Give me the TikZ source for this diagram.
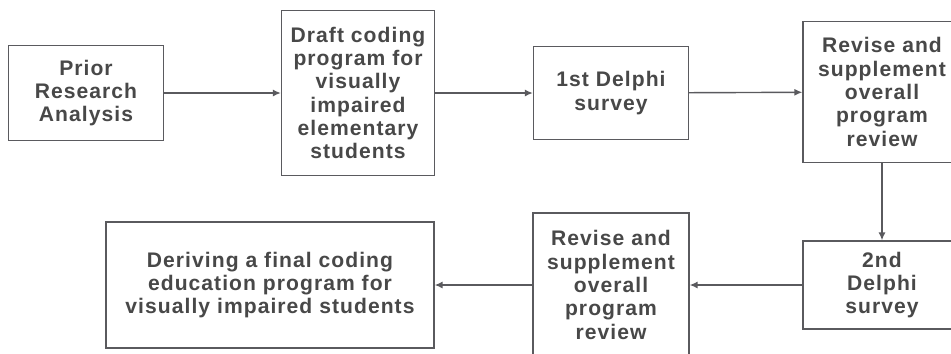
\documentclass[tikz,border=0pt]{standalone}
\usepackage{fontspec}
\setmainfont[LetterSpace=5]{Liberation Sans}
\usepackage{tikz}
\usetikzlibrary{positioning, arrows.meta}

\definecolor{boxline}{HTML}{5A5A5E}
\definecolor{boxtext}{HTML}{484848}

\tikzset{
    stepbox/.style={draw=boxline, line width=0.8pt, fill=white, align=center,
        text=boxtext, font=\fontsize{12}{13.3}\selectfont\bfseries, inner sep=0pt},
    flow/.style={draw=boxline, line width=0.8pt, -{Latex[length=4.5pt,width=4pt]}}
}

\begin{document}
\begin{tikzpicture}[x=0.02cm, y=-0.02cm]
        \clip (0,0) rectangle (951,353);
        \fill[white] (0,0) rectangle (951,353);

        % upper row
        \node[stepbox, minimum width=3.1cm, minimum height=1.9cm] (prior) at (86,93)
            {Prior\\Research\\Analysis};
        \node[stepbox, minimum width=3.06cm, minimum height=3.3cm] (draft) at (358,93)
            {Draft coding\\program for\\visually\\impaired\\elementary\\students};
        \node[stepbox, minimum width=3.1cm, minimum height=1.86cm] (delphi1) at (611,93)
            {1st Delphi\\survey};
        \node[stepbox, minimum width=3.16cm, minimum height=2.82cm] (revise1) at (882,92)
            {Revise and\\supplement\\overall\\program\\review};

        % lower row
        \node[stepbox, minimum width=3.16cm, minimum height=1.76cm] (delphi2) at (882,285)
            {2nd\\Delphi\\survey};
        \node[stepbox, minimum width=3.12cm, minimum height=2.88cm] (revise2) at (611,285)
            {Revise and\\supplement\\overall\\program\\review};
        \node[stepbox, minimum width=6.56cm, minimum height=2.52cm] (final) at (270,285)
            {Deriving a final coding\\education program for\\visually impaired students};

        \draw[flow] (prior) -- (draft);
        \draw[flow] (draft) -- (delphi1);
        \draw[flow] (delphi1) -- (revise1);
        \draw[flow] (revise1) -- (delphi2);
        \draw[flow] (delphi2) -- (revise2);
        \draw[flow] (revise2) -- (final);

    \end{tikzpicture}
\end{document}
